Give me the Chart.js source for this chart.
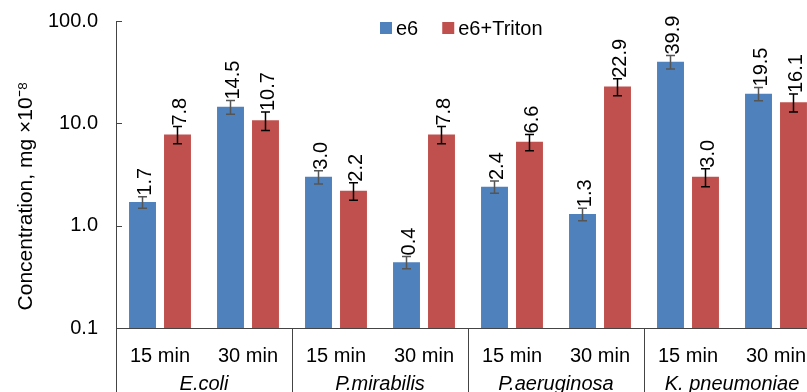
<!DOCTYPE html>
<html>
<head>
<meta charset="utf-8">
<script src="https://cdn.jsdelivr.net/npm/chart.js@4"></script>
<style>
  html, body { margin: 0; padding: 0; background: #fff; overflow: hidden; }
  #wrap { position: relative; width: 820px; height: 400px; }
</style>
</head>
<body>
<div id="wrap"><canvas id="concChart" width="820" height="400"></canvas></div>
<script>
const groups = ["E.coli", "P.mirabilis", "P.aeruginosa", "K. pneumoniae"];
const categories = ["15 min", "30 min", "15 min", "30 min", "15 min", "30 min", "15 min", "30 min"];
const e6Values = [1.7, 14.5, 3.0, 0.44, 2.4, 1.3, 39.9, 19.5];
const e6Errors = [0.22, 2.2, 0.45, 0.06, 0.33, 0.18, 6.0, 2.9];
const tritonValues = [7.8, 10.7, 2.2, 7.8, 6.6, 22.9, 3.0, 16.1];
const tritonErrors = [1.5, 2.2, 0.43, 1.5, 1.2, 4.3, 0.6, 3.2];
const yTicks = [0.1, 1, 10, 100];
const yTitle = "Concentration, mg \u00d710\u207b\u2078";

const FONT = "'Liberation Sans', Arial, sans-serif";
const axisColor = "#444";

const extras = {
    id: "extras",
    afterDatasetsDraw(chart) {
        const ctx = chart.ctx;
        const y = chart.scales.y;

        // error bars and rotated value labels
        chart.data.datasets.forEach((ds, di) => {
            const meta = chart.getDatasetMeta(di);
            meta.data.forEach((bar, i) => {
                const v = ds.data[i];
                const e = ds.errors[i];
                const yt = y.getPixelForValue(v + e);
                const yb = y.getPixelForValue(v - e);
                ctx.save();
                ctx.strokeStyle = ds.errorColor;
                ctx.lineWidth = 1.5;
                ctx.beginPath();
                ctx.moveTo(bar.x, yt); ctx.lineTo(bar.x, yb);
                ctx.moveTo(bar.x - 4.5, yt); ctx.lineTo(bar.x + 4.5, yt);
                ctx.moveTo(bar.x - 4.5, yb); ctx.lineTo(bar.x + 4.5, yb);
                ctx.stroke();

                ctx.translate(bar.x + 3, yt - 1);
                ctx.rotate(-Math.PI / 2);
                ctx.fillStyle = "#000";
                ctx.font = "20px " + FONT;
                ctx.textAlign = "left";
                ctx.textBaseline = "middle";
                ctx.fillText(v.toFixed(1), 0, 0);
                ctx.restore();
            });
        });
    },
    afterDraw(chart) {
        const ctx = chart.ctx;
        const x = chart.scales.x;
        const y = chart.scales.y;
        const area = chart.chartArea;
        const H = chart.height;

        ctx.save();
        ctx.strokeStyle = axisColor;
        ctx.lineWidth = 1;

        // inner tick marks on the y axis
        ctx.beginPath();
        yTicks.forEach(t => {
            const py = Math.round(y.getPixelForValue(t)) + 0.5;
            ctx.moveTo(area.left, py);
            ctx.lineTo(area.left + 6, py);
        });
        ctx.stroke();

        // group dividers below the x axis
        ctx.beginPath();
        ctx.moveTo(Math.round(area.left) + 0.5, area.bottom);
        ctx.lineTo(Math.round(area.left) + 0.5, H);
        for (let g = 1; g < groups.length; g++) {
            const px = (x.getPixelForValue(g * 2 - 1) + x.getPixelForValue(g * 2)) / 2;
            ctx.moveTo(Math.round(px) + 0.5, area.bottom);
            ctx.lineTo(Math.round(px) + 0.5, H);
        }
        ctx.stroke();

        // group names
        ctx.fillStyle = "#000";
        ctx.font = "italic 20px " + FONT;
        ctx.textAlign = "center";
        ctx.textBaseline = "middle";
        groups.forEach((g, gi) => {
            const px = (x.getPixelForValue(gi * 2) + x.getPixelForValue(gi * 2 + 1)) / 2;
            ctx.fillText(g, px, 384);
        });

        // y title
        ctx.save();
        ctx.translate(26, 196);
        ctx.rotate(-Math.PI / 2);
        ctx.font = "21px " + FONT;
        ctx.fillText(yTitle, 0, 0);
        ctx.restore();

        // legend
        let lx = 380;
        ctx.font = "20px " + FONT;
        ctx.textAlign = "left";
        chart.data.datasets.forEach(ds => {
            ctx.fillStyle = ds.backgroundColor;
            ctx.fillRect(lx, 22, 12, 12);
            ctx.fillStyle = "#000";
            ctx.fillText(ds.label, lx + 16, 29);
            lx += 16 + ctx.measureText(ds.label).width + 24;
        });
        ctx.restore();
    }
};

new Chart(document.getElementById("concChart"), {
    type: "bar",
    data: {
        labels: categories,
        datasets: [
            {
                label: "e6",
                data: e6Values,
                errors: e6Errors,
                errorColor: "#555",
                backgroundColor: "#4F81BD",
                categoryPercentage: 0.795,
                barPercentage: 0.77
            },
            {
                label: "e6+Triton",
                data: tritonValues,
                errors: tritonErrors,
                errorColor: "#000",
                backgroundColor: "#C0504D",
                categoryPercentage: 0.795,
                barPercentage: 0.77
            }
        ]
    },
    options: {
        responsive: false,
        animation: false,
        devicePixelRatio: 1,
        layout: { padding: { top: 21, left: 0, right: 0, bottom: 0 } },
        plugins: {
            legend: { display: false },
            tooltip: { enabled: false }
        },
        scales: {
            x: {
                grid: { display: false },
                border: { display: true, color: axisColor, width: 1 },
                ticks: {
                    color: "#000",
                    font: { family: FONT, size: 20 },
                    padding: 8,
                    maxRotation: 0,
                    autoSkip: false
                },
                afterFit(scale) {
                    scale.height = 72;
                    scale.paddingLeft = 0;
                    scale.paddingRight = 0;
                }
            },
            y: {
                type: "logarithmic",
                min: 0.1,
                max: 100,
                grid: { display: false, drawTicks: false },
                border: { display: true, color: axisColor, width: 1 },
                ticks: {
                    color: "#000",
                    font: { family: FONT, size: 20 },
                    padding: 18,
                    callback: v => Number(v).toFixed(1)
                },
                afterBuildTicks(scale) {
                    scale.ticks = yTicks.map(v => ({ value: v }));
                },
                afterFit(scale) {
                    scale.width = 116;
                    scale.paddingTop = 0;
                    scale.paddingBottom = 0;
                }
            }
        }
    },
    plugins: [extras]
});
</script>
</body>
</html>
